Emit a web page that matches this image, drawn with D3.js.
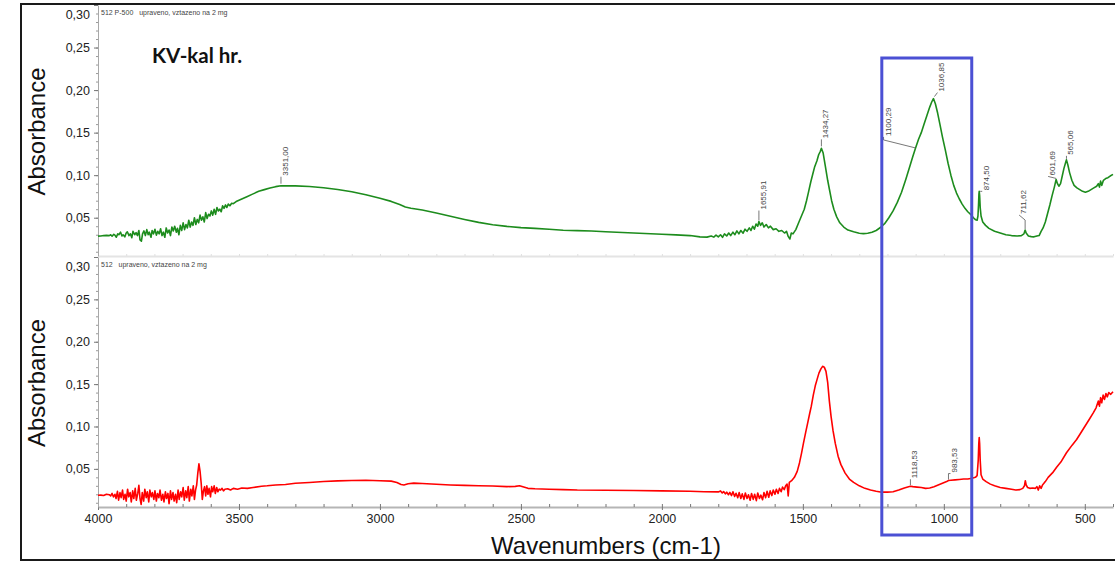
<!DOCTYPE html>
<html>
<head>
<meta charset="utf-8">
<script src="https://cdn.jsdelivr.net/npm/d3@7"></script>
<style>
  html, body { margin: 0; padding: 0; background: #fff; }
  svg { display: block; }
</style>
</head>
<body>
<svg id="chart" width="1115" height="562"></svg>
<script>
// ---- spectrum data: [wavenumber (cm-1), absorbance] ----
const upperSpectrum = [
  [4000,0.0283],[3990,0.0285],[3980,0.0290],[3970,0.0292],[3960,0.0290],[3955,0.0300],[3950,0.0282],
  [3944,0.0305],[3940,0.0295],[3935,0.0270],[3930,0.0310],[3926,0.0300],[3920,0.0330],[3915,0.0285],
  [3911,0.0300],[3905,0.0275],[3900,0.0320],[3896,0.0335],[3890,0.0290],[3885,0.0310],[3880,0.0265],
  [3876,0.0340],[3870,0.0300],[3865,0.0325],[3860,0.0290],[3855,0.0350],[3851,0.0240],[3846,0.0225],
  [3842,0.0310],[3837,0.0345],[3832,0.0290],[3827,0.0360],[3822,0.0300],[3818,0.0330],[3812,0.0270],
  [3808,0.0350],[3803,0.0310],[3798,0.0365],[3793,0.0295],[3788,0.0340],[3783,0.0310],[3778,0.0370],
  [3773,0.0290],[3768,0.0330],[3763,0.0270],[3758,0.0380],[3753,0.0320],[3748,0.0355],[3743,0.0290],
  [3738,0.0390],[3733,0.0345],[3728,0.0400],[3722,0.0330],[3718,0.0375],[3713,0.0300],[3708,0.0410],
  [3703,0.0350],[3698,0.0440],[3693,0.0360],[3688,0.0420],[3683,0.0380],[3678,0.0470],[3673,0.0390],
  [3668,0.0450],[3663,0.0410],[3658,0.0500],[3653,0.0420],[3648,0.0480],[3643,0.0440],[3638,0.0530],
  [3633,0.0470],[3628,0.0510],[3623,0.0450],[3618,0.0560],[3613,0.0490],[3608,0.0540],[3603,0.0520],
  [3598,0.0580],[3593,0.0530],[3588,0.0600],[3583,0.0540],[3578,0.0620],[3573,0.0580],[3568,0.0600],
  [3563,0.0570],[3558,0.0640],[3553,0.0610],[3548,0.0650],[3543,0.0620],[3538,0.0660],[3532,0.0640],
  [3526,0.0670],[3520,0.0665],[3510,0.0690],[3490,0.0720],
  [3470,0.0750],[3450,0.0780],[3430,0.0810],[3410,0.0830],[3390,0.0850],[3370,0.0865],[3351.00,0.0876],
  [3300,0.0874],[3250,0.0866],[3200,0.0853],[3150,0.0832],[3100,0.0805],[3050,0.0770],[3000,0.0728],
  [2960,0.0692],[2930,0.0655],[2910,0.0625],[2890,0.0612],[2850,0.0590],[2800,0.0555],[2750,0.0518],
  [2700,0.0480],[2650,0.0445],[2600,0.0418],[2550,0.0398],[2500,0.0383],[2450,0.0375],[2400,0.0365],
  [2350,0.0353],[2300,0.0348],[2250,0.0344],[2200,0.0335],[2100,0.0320],[2000,0.0305],[1950,0.0298],
  [1900,0.0290],[1865,0.0275],[1840,0.0272],[1825,0.0285],[1816,0.0272],[1808,0.0295],[1800,0.0275],
  [1792,0.0300],[1785,0.0270],[1778,0.0310],[1770,0.0285],[1763,0.0320],[1756,0.0290],[1748,0.0330],
  [1741,0.0300],[1734,0.0345],[1727,0.0310],[1720,0.0350],[1712,0.0318],[1705,0.0365],[1698,0.0340],
  [1690,0.0380],[1684,0.0350],[1678,0.0400],[1672,0.0365],[1666,0.0425],[1660,0.0400],
  [1655.91,0.0455],[1650,0.0410],[1644,0.0440],[1638,0.0390],[1630,0.0420],[1622,0.0380],[1615,0.0400],
  [1605,0.0360],[1595,0.0370],[1585,0.0340],[1575,0.0350],[1565,0.0320],[1558,0.0340],[1552,0.0280],
  [1546,0.0250],[1541,0.0320],[1535,0.0310],[1525,0.0360],[1515,0.0440],[1505,0.0520],[1495,0.0600],
  [1487,0.0700],[1480,0.0800],[1472,0.0920],[1465,0.1010],[1458,0.1100],[1450,0.1170],[1444,0.1240],
  [1438,0.1280],[1434.27,0.1315],[1428,0.1260],[1420,0.1100],[1412,0.0940],[1405,0.0820],[1398,0.0700],
  [1390,0.0600],[1380,0.0510],[1369,0.0440],[1355,0.0390],[1340,0.0355],[1320,0.0335],[1300,0.0318],
  [1285,0.0313],[1270,0.0318],[1255,0.0330],[1240,0.0350],[1225,0.0385],[1210,0.0430],[1195,0.0500],
  [1180,0.0580],[1165,0.0680],[1150,0.0800],[1135,0.0950],[1120,0.1110],[1110,0.1220],[1100.29,0.1320],
  [1090,0.1420],[1080,0.1500],[1070,0.1600],[1060,0.1700],[1050,0.1800],[1043,0.1860],[1036.85,0.1900],
  [1030,0.1840],[1022,0.1730],[1014,0.1600],[1005,0.1450],[995,0.1300],[985,0.1140],[975,0.1000],
  [965,0.0880],[955,0.0790],[945,0.0720],[935,0.0660],[925,0.0610],[915,0.0570],[905,0.0540],
  [895,0.0500],[887,0.0475],[882,0.0470],[879,0.0520],[877,0.0650],[875.5,0.0780],[874.50,0.0810],
  [873,0.0760],[871,0.0620],[868,0.0520],[862,0.0450],[852,0.0410],[840,0.0375],[820,0.0340],
  [800,0.0320],[780,0.0300],[760,0.0290],[740,0.0285],[725,0.0290],[716,0.0310],[711.62,0.0355],
  [708,0.0320],[700,0.0285],[690,0.0278],[680,0.0275],[670,0.0285],[662,0.0290],[655,0.0340],
  [648,0.0380],[640,0.0450],[632,0.0550],[624,0.0650],[616,0.0760],[608,0.0860],[601.69,0.0950],
  [597,0.0900],[592,0.0870],[586,0.0900],[580,0.0990],[574,0.1080],[568,0.1150],[565.06,0.1180],
  [560,0.1120],[554,0.1030],[546,0.0940],[538,0.0880],[528,0.0850],[518,0.0830],[508,0.0810],
  [498,0.0800],[488,0.0810],[478,0.0830],[468,0.0850],[458,0.0870],[452,0.0900],[448,0.0860],
  [444,0.0930],[440,0.0880],[434,0.0940],[426,0.0960],[418,0.0970],[410,0.0990],[400,0.1010]
];

const lowerSpectrum = [
  [4000,0.0188],[3990,0.0190],[3980,0.0185],[3970,0.0200],[3960,0.0195],[3955,0.0180],[3950,0.0210],
  [3945,0.0170],[3940,0.0200],[3936,0.0150],[3931,0.0235],[3927,0.0130],[3922,0.0220],[3918,0.0160],
  [3913,0.0250],[3909,0.0140],[3904,0.0200],[3900,0.0120],[3895,0.0260],[3891,0.0170],[3886,0.0220],
  [3882,0.0110],[3877,0.0240],[3873,0.0150],[3868,0.0270],[3864,0.0130],[3859,0.0210],[3855,0.0305],
  [3851,0.0150],[3847,0.0080],[3843,0.0220],[3838,0.0120],[3834,0.0260],[3829,0.0160],[3825,0.0230],
  [3820,0.0110],[3816,0.0250],[3811,0.0170],[3807,0.0220],[3802,0.0140],[3798,0.0240],[3793,0.0120],
  [3789,0.0210],[3784,0.0160],[3780,0.0250],[3775,0.0130],[3770,0.0200],[3766,0.0110],[3761,0.0230],
  [3757,0.0150],[3752,0.0210],[3748,0.0090],[3743,0.0240],[3739,0.0140],[3734,0.0220],[3730,0.0120],
  [3725,0.0200],[3721,0.0100],[3716,0.0250],[3712,0.0140],[3707,0.0230],[3703,0.0170],[3698,0.0280],
  [3694,0.0130],[3689,0.0240],[3685,0.0160],[3680,0.0290],[3676,0.0120],[3671,0.0260],[3667,0.0180],
  [3662,0.0300],[3658,0.0140],[3654,0.0250],[3650,0.0310],[3646,0.0450],[3642,0.0559],[3638,0.0470],
  [3634,0.0330],[3630,0.0140],[3626,0.0240],[3622,0.0290],[3618,0.0180],[3614,0.0300],[3610,0.0200],
  [3606,0.0270],[3601,0.0170],[3597,0.0290],[3593,0.0230],[3588,0.0300],[3584,0.0210],[3579,0.0280],
  [3575,0.0230],[3570,0.0260],[3565,0.0250],[3560,0.0270],[3555,0.0240],[3550,0.0260],
  [3540,0.0265],[3530,0.0250],[3520,0.0270],[3505,0.0260],
  [3490,0.0275],[3470,0.0270],[3450,0.0280],[3420,0.0295],[3400,0.0300],[3370,0.0310],[3335,0.0316],
  [3300,0.0330],[3250,0.0340],[3200,0.0350],[3150,0.0358],[3100,0.0363],[3050,0.0365],[3000,0.0360],
  [2960,0.0355],[2940,0.0340],[2925,0.0315],[2915,0.0310],[2900,0.0325],[2880,0.0332],[2850,0.0328],
  [2800,0.0318],[2750,0.0310],[2700,0.0305],[2650,0.0300],[2600,0.0297],[2550,0.0290],[2520,0.0293],
  [2505,0.0300],[2490,0.0285],[2475,0.0270],[2450,0.0265],[2400,0.0260],[2350,0.0255],[2300,0.0250],
  [2200,0.0248],[2100,0.0245],[2000,0.0240],[1900,0.0235],[1850,0.0230],[1800,0.0228],[1792,0.0240],
  [1786,0.0215],[1781,0.0232],[1775,0.0205],[1770,0.0225],[1764,0.0195],[1759,0.0222],[1753,0.0185],
  [1748,0.0230],[1742,0.0175],[1737,0.0212],[1731,0.0160],[1726,0.0220],[1720,0.0150],[1715,0.0205],
  [1709,0.0140],[1704,0.0215],[1698,0.0150],[1693,0.0195],[1687,0.0130],[1682,0.0210],[1676,0.0140],
  [1671,0.0200],[1665,0.0125],[1660,0.0215],[1654,0.0150],[1649,0.0190],[1643,0.0135],[1638,0.0220],
  [1632,0.0160],[1627,0.0235],[1621,0.0165],[1616,0.0240],[1610,0.0185],[1605,0.0250],[1599,0.0200],
  [1594,0.0260],[1588,0.0210],[1583,0.0270],[1577,0.0230],[1572,0.0285],[1566,0.0255],[1561,0.0300],
  [1556,0.0320],[1552,0.0180],[1548,0.0340],[1540,0.0360],
  [1530,0.0400],[1520,0.0470],[1512,0.0570],[1505,0.0680],[1498,0.0800],[1490,0.0930],[1483,0.1040],
  [1476,0.1150],[1470,0.1240],[1463,0.1370],[1456,0.1480],[1450,0.1550],[1443,0.1630],[1436,0.1680],
  [1430,0.1710],[1424,0.1700],[1418,0.1650],[1412,0.1520],[1406,0.1300],[1400,0.1120],[1393,0.0950],
  [1385,0.0800],[1375,0.0650],[1365,0.0550],[1350,0.0450],[1335,0.0380],[1320,0.0340],[1300,0.0300],
  [1280,0.0270],[1260,0.0250],[1240,0.0235],[1220,0.0225],[1200,0.0225],[1180,0.0230],[1160,0.0250],
  [1140,0.0275],[1125,0.0290],[1118.53,0.0295],[1110,0.0290],[1095,0.0285],[1080,0.0280],[1065,0.0270],
  [1050,0.0275],[1035,0.0290],[1020,0.0310],[1005,0.0330],[990,0.0350],[983.53,0.0362],[975,0.0365],
  [960,0.0370],[945,0.0375],[930,0.0380],[915,0.0380],[900,0.0390],[888,0.0400],[882,0.0420],
  [878,0.0600],[876,0.0800],[874.5,0.0870],[873,0.0800],[871,0.0600],[868,0.0430],[862,0.0380],
  [850,0.0350],[835,0.0320],[820,0.0300],[800,0.0280],[780,0.0270],[760,0.0260],[745,0.0250],
  [730,0.0255],[720,0.0270],[714,0.0300],[711,0.0360],[708,0.0310],[703,0.0280],[695,0.0270],
  [685,0.0275],[675,0.0270],[670,0.0290],[665,0.0250],[660,0.0300],[655,0.0270],[650,0.0310],
  [640,0.0350],[630,0.0400],[614,0.0455],[600,0.0520],[585,0.0580],[565,0.0690],[545,0.0780],
  [529,0.0847],[515,0.0920],[500,0.1000],[485,0.1080],[470,0.1160],[460,0.1220],[452,0.1300],
  [448,0.1240],[444,0.1340],[440,0.1280],[435,0.1370],[430,0.1320],[425,0.1390],[420,0.1350],
  [415,0.1400],[408,0.1380],[400,0.1410]
];

// labelled peak positions (cm-1)
const upperPeaks = [3351.00, 1655.91, 1434.27, 1100.29, 1036.85, 874.50, 711.62, 601.69, 565.06];
const lowerPeaks = [1118.53, 983.53];

// axis ticks
const xTickValues = [4000, 3500, 3000, 2500, 2000, 1500, 1000, 500];
const xMinorValues = d3.range(400, 4001, 100);
const yTickValues = [0.05, 0.10, 0.15, 0.20, 0.25, 0.30];
const yMinorValues = d3.range(1, 30).map(i => i / 100);

// texts
const upperCaption = "512 P-500   upraveno, vztazeno na 2 mg";
const lowerCaption = "512   upraveno, vztazeno na 2 mg";
const sampleName = "KV-kal hr.";
const yTitle = "Absorbance";
const xTitle = "Wavenumbers (cm-1)";

// highlighted wavenumber window (cm-1)
const highlightWindow = [1220, 901];

// ---- layout ----
const W = 1115, H = 562;
const plotLeft = 98, plotRight = 1113;
const panels = [
  { top: 5,   bottom: 256, data: upperSpectrum, color: "#1d8c1d", caption: upperCaption, peaks: upperPeaks,
    leaders: [
      [[0,-2],[0,-9]],            // 3351,00
      [[0,-1],[0,-11]],           // 1655,91
      [[0,-2],[0,-9]],            // 1434,27
      [[0,0],[-32,-8],[-32,-11]], // 1100,29
      [[1,-2],[4,-6]],            // 1036,85
      [[1,0],[3,0]],              // 874,50
      [[0,-1],[0,-10],[-6,-15]],  // 711,62
      [[0,-1],[-8,-3]],           // 601,69
      [[0,-1],[0,-4]]             // 565,06
    ], showXAxis: false },
  { top: 257, bottom: 507, data: lowerSpectrum, color: "#ff0000", caption: lowerCaption, peaks: lowerPeaks,
    leaders: [
      [[0,-1],[0,-7]],            // 1118,53
      [[0,-1],[0,-7],[2,-7]]      // 983,53
    ], showXAxis: true }
];

const svg = d3.select("#chart");
svg.append("rect").attr("width", W).attr("height", H).attr("fill", "#fff");

const x = d3.scaleLinear().domain([4000, 400]).range([plotLeft, plotRight]);
const commaFmt = v => d3.format(".2f")(v).replace(".", ",");

const defs = svg.append("defs");

panels.forEach((p, i) => {
  const y = d3.scaleLinear().domain([0.005, 0.30]).range([p.bottom, p.top]);

  defs.append("clipPath").attr("id", "clip" + i)
    .append("rect").attr("x", plotLeft).attr("y", p.top - 1)
    .attr("width", plotRight - plotLeft + 2).attr("height", p.bottom - p.top + 1);

  // x axis
  if (p.showXAxis) {
    const gx = svg.append("g").attr("transform", `translate(0,${p.bottom})`);
    gx.call(d3.axisBottom(x).tickValues(xMinorValues).tickSizeInner(-3).tickSizeOuter(0).tickFormat(""));
    gx.selectAll(".tick line").attr("stroke", "#777");
    gx.select(".domain").attr("stroke", "#b5b5b5").attr("stroke-width", 2);
    const gxMaj = svg.append("g").attr("transform", `translate(0,${p.bottom})`);
    gxMaj.call(d3.axisBottom(x).tickValues(xTickValues).tickSizeInner(3).tickSizeOuter(0)
      .tickPadding(4).tickFormat(d3.format("d")));
    gxMaj.select(".domain").remove();
    gxMaj.selectAll(".tick line").attr("stroke", "#777");
    gxMaj.selectAll(".tick text")
      .attr("font-family", "Liberation Sans, Arial, sans-serif")
      .attr("font-size", 12.5).attr("fill", "#222");
  } else {
    const gx = svg.append("g").attr("transform", `translate(0,${p.bottom})`);
    gx.call(d3.axisBottom(x).tickValues(xMinorValues).tickSizeInner(-2).tickSizeOuter(0).tickFormat(""));
    gx.select(".domain").attr("stroke", "#e4e4e4").attr("stroke-width", 2);
    gx.selectAll(".tick line").attr("stroke", "#e0e0e0");
  }

  // y axis: minor then major ticks
  const gyMinor = svg.append("g").attr("transform", `translate(${plotLeft},0)`);
  gyMinor.call(d3.axisLeft(y).tickValues(yMinorValues).tickSizeInner(2).tickSizeOuter(0).tickFormat(""));
  gyMinor.select(".domain").attr("stroke", "#a8a8a8");
  gyMinor.selectAll(".tick line").attr("stroke", "#999");

  const gy = svg.append("g").attr("transform", `translate(${plotLeft},0)`);
  gy.call(d3.axisLeft(y).tickValues(yTickValues).tickSizeInner(4).tickSizeOuter(0).tickPadding(4).tickFormat(commaFmt));
  gy.select(".domain").remove();
  gy.selectAll(".tick line").attr("stroke", "#777");
  gy.selectAll(".tick text")
    .attr("font-family", "Liberation Sans, Arial, sans-serif")
    .attr("font-size", 12.5).attr("fill", "#222")
    .attr("dy", d => d === 0.30 ? "1.1em" : "0.32em");

  // caption at the top of each panel
  svg.append("text").attr("x", plotLeft + 3).attr("y", p.top + 10)
    .attr("font-family", "Liberation Sans, Arial, sans-serif")
    .attr("font-size", 7).attr("fill", "#444")
    .attr("xml:space", "preserve").style("white-space", "pre")
    .text(p.caption);

  // y title
  svg.append("text")
    .attr("transform", `translate(45,${(p.top + p.bottom) / 2 + 1}) rotate(-90)`)
    .attr("text-anchor", "middle")
    .attr("font-family", "Liberation Sans, Arial, sans-serif")
    .attr("font-size", 24).attr("fill", "#111")
    .text(yTitle);

  // spectrum line
  const line = d3.line().x(d => x(d[0])).y(d => y(d[1]));
  svg.append("path").datum(p.data)
    .attr("clip-path", `url(#clip${i})`)
    .attr("fill", "none").attr("stroke", p.color)
    .attr("stroke-width", 1.6).attr("stroke-linejoin", "round")
    .attr("d", line);

  // peak labels with leader lines
  const gLab = svg.append("g");
  p.peaks.forEach((wn, k) => {
    const pt = d3.least(p.data, d => Math.abs(d[0] - wn));
    const px = x(wn), py = y(pt[1]);
    const pts = p.leaders[k].map(o => [px + o[0], py + o[1]]);
    gLab.append("path")
      .attr("d", d3.line()(pts))
      .attr("fill", "none").attr("stroke", "#555").attr("stroke-width", 0.8);
    const end = pts[pts.length - 1];
    gLab.append("text")
      .attr("transform", `translate(${end[0] + 7},${end[1] - 1}) rotate(-90)`)
      .attr("font-family", "Liberation Sans, Arial, sans-serif")
      .attr("font-size", 8).attr("fill", "#444")
      .text(d3.format(".2f")(wn).replace(".", ","));
  });
});

// sample name
svg.append("text").attr("x", 152).attr("y", 63)
  .attr("font-family", "Lato, 'Open Sans', sans-serif").attr("font-weight", 700)
  .attr("font-size", 20.5).attr("fill", "#111")
  .text(sampleName);

// x title
svg.append("text").attr("x", 606).attr("y", 554)
  .attr("text-anchor", "middle")
  .attr("font-family", "Liberation Sans, Arial, sans-serif")
  .attr("font-size", 24).attr("fill", "#111")
  .text(xTitle);

// highlighted window
svg.append("rect")
  .attr("x", x(highlightWindow[0])).attr("y", 58)
  .attr("width", x(highlightWindow[1]) - x(highlightWindow[0])).attr("height", 477)
  .attr("fill", "none").attr("stroke", "#4b50d4").attr("stroke-width", 3);

// outer frame
svg.append("rect").attr("x", 21).attr("y", 4).attr("width", 1120).attr("height", 556)
  .attr("fill", "none").attr("stroke", "#1a1a1a").attr("stroke-width", 2);
</script>
</body>
</html>
